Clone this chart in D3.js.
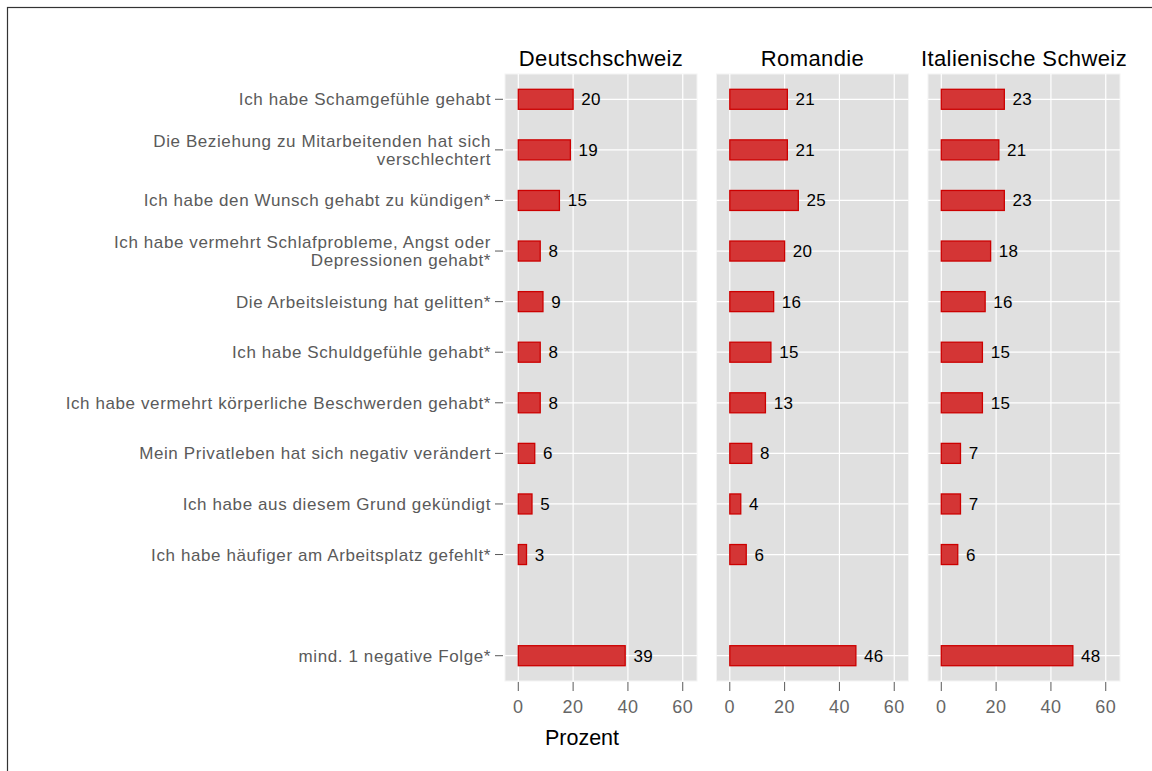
<!DOCTYPE html>
<html>
<head>
<meta charset="utf-8">
<script src="https://cdn.jsdelivr.net/npm/d3@7"></script>
<style>
	body { margin: 0; background: #fff; }
	text { font-family: "Liberation Sans", Arial, sans-serif; }
</style>
</head>
<body>
<svg id="chart" width="1152" height="771"></svg>
<script>
// categories top to bottom, '' is the empty slot before the summary row
const categories = [
	'Ich habe Schamgefühle gehabt',
	'Die Beziehung zu Mitarbeitenden hat sich|verschlechtert',
	'Ich habe den Wunsch gehabt zu kündigen*',
	'Ich habe vermehrt Schlafprobleme, Angst oder|Depressionen gehabt*',
	'Die Arbeitsleistung hat gelitten*',
	'Ich habe Schuldgefühle gehabt*',
	'Ich habe vermehrt körperliche Beschwerden gehabt*',
	'Mein Privatleben hat sich negativ verändert',
	'Ich habe aus diesem Grund gekündigt',
	'Ich habe häufiger am Arbeitsplatz gefehlt*',
	'',
	'mind. 1 negative Folge*'
];
const regions = ['Deutschschweiz', 'Romandie', 'Italienische Schweiz'];
const deutschschweiz = [20, 19, 15, 8, 9, 8, 8, 6, 5, 3, null, 39];
const romandie = [21, 21, 25, 20, 16, 15, 13, 8, 4, 6, null, 46];
const italienisch = [23, 21, 23, 18, 16, 15, 15, 7, 7, 6, null, 48];
const xTicks = [0, 20, 40, 60];
const xTitle = 'Prozent';

const series = [deutschschweiz, romandie, italienisch];
const svg = d3.select('#chart');

// outer frame
svg.append('rect')
	.attr('x', 7.5).attr('y', 7.5)
	.attr('width', 1160).attr('height', 780)
	.attr('fill', 'none')
	.attr('stroke', '#333')
	.attr('stroke-width', 1.2);

const panelX = [505, 716.5, 928];
const panelW = 192;
const panelTop = 74, panelBottom = 681;

const x = d3.scaleLinear().domain([-4.85, 65.2]).range([0, panelW]);
const y = d3.scalePoint().domain(d3.range(categories.length)).range([panelTop, panelBottom]).padding(0.5);
const barH = 20;

// category labels + ticks
const labels = svg.append('g');
categories.forEach((c, i) => {
	if (!c) return;
	const lines = c.split('|');
	const cy = y(i);
	const t = labels.append('text')
		.attr('x', 491)
		.attr('text-anchor', 'end')
		.attr('font-size', 17)
		.attr('letter-spacing', 0.6)
		.attr('fill', '#5a5a5a');
	const lh = 18;
	lines.forEach((l, k) => {
		t.append('tspan')
			.attr('x', 491)
			.attr('y', cy + 6 + (k - (lines.length - 1) / 2) * lh)
			.text(l);
	});
	labels.append('line')
		.attr('x1', 495).attr('x2', 503)
		.attr('y1', cy).attr('y2', cy)
		.attr('stroke', '#5a5a5a')
		.attr('stroke-width', 1);
});

regions.forEach((r, p) => {
	const g = svg.append('g').attr('transform', `translate(${panelX[p]},0)`);
	const data = series[p];

	g.append('rect')
		.attr('x', 0).attr('y', panelTop)
		.attr('width', panelW).attr('height', panelBottom - panelTop)
		.attr('fill', '#e0e0e0')
		.attr('stroke', '#f4f4f4')
		.attr('stroke-width', 1);

	// grid
	g.selectAll('.vg').data(xTicks).enter().append('line')
		.attr('x1', d => x(d)).attr('x2', d => x(d))
		.attr('y1', panelTop).attr('y2', panelBottom)
		.attr('stroke', '#fff').attr('stroke-width', 1.2);
	g.selectAll('.hg').data(categories.map((c, i) => i).filter(i => categories[i])).enter().append('line')
		.attr('x1', 0).attr('x2', panelW)
		.attr('y1', d => y(d)).attr('y2', d => y(d))
		.attr('stroke', '#fff').attr('stroke-width', 1.2);

	// bars
	const rows = data.map((v, i) => ({ v, i })).filter(d => d.v != null);
	g.selectAll('.bar').data(rows).enter().append('rect')
		.attr('x', x(0))
		.attr('y', d => y(d.i) - barH / 2)
		.attr('width', d => x(d.v) - x(0))
		.attr('height', barH)
		.attr('fill', '#d43535')
		.attr('stroke', '#cc0000')
		.attr('stroke-width', 1.3);

	g.selectAll('.val').data(rows).enter().append('text')
		.attr('x', d => x(d.v + 3))
		.attr('y', d => y(d.i) + 6)
		.attr('font-size', 17)
		.attr('letter-spacing', 0.3)
		.attr('fill', '#000')
		.text(d => d.v);

	// strip title
	g.append('text')
		.attr('x', panelW / 2)
		.attr('y', 66)
		.attr('text-anchor', 'middle')
		.attr('font-size', 22)
		.attr('letter-spacing', 0.4)
		.attr('fill', '#000')
		.text(r);

	// x axis
	const ax = g.append('g').attr('transform', `translate(0,${panelBottom})`);
	ax.selectAll('line').data(xTicks).enter().append('line')
		.attr('x1', d => x(d)).attr('x2', d => x(d))
		.attr('y1', 1).attr('y2', 10)
		.attr('stroke', '#5a5a5a');
	ax.selectAll('text').data(xTicks).enter().append('text')
		.attr('x', d => x(d))
		.attr('y', 32)
		.attr('text-anchor', 'middle')
		.attr('font-size', 18)
		.attr('letter-spacing', 0.5)
		.attr('fill', '#666')
		.text(d => d);
});

svg.append('text')
	.attr('x', 582)
	.attr('y', 745)
	.attr('text-anchor', 'middle')
	.attr('font-size', 21.5)
	.attr('fill', '#000')
	.text(xTitle);
</script>
</body>
</html>
